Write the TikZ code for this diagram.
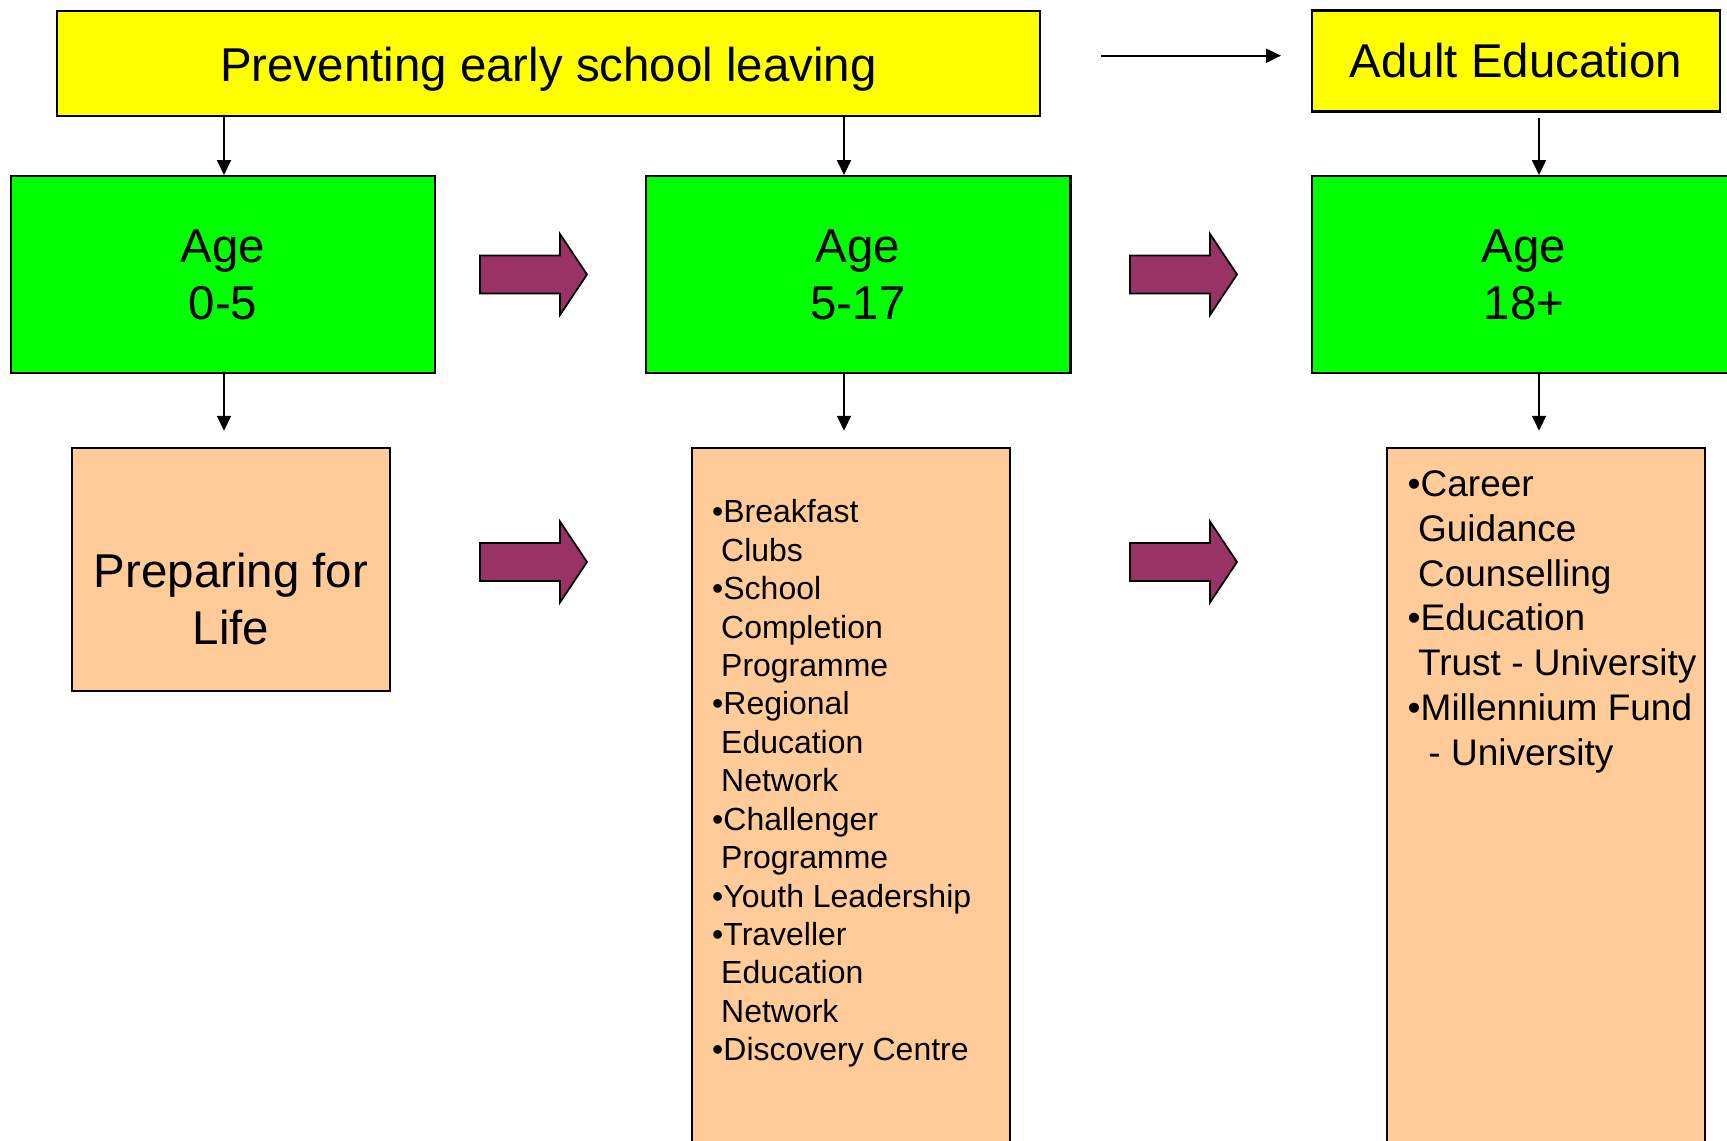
\documentclass[tikz,border=0pt]{standalone}
\usepackage{fontspec}
\setmainfont{Liberation Sans}
\usepackage{xcolor}
\usepackage{tikz}
\usetikzlibrary{arrows.meta}
\usetikzlibrary{positioning}
\definecolor{titleyellow}{rgb}{1,1,0}
\definecolor{agegreen}{rgb}{0,1,0}
\definecolor{listpeach}{rgb}{1,0.8,0.6}
\definecolor{arrowplum}{rgb}{0.6,0.2,0.4}
\newcommand{\ind}{\hspace*{0.28em}}

\begin{document}
\begin{tikzpicture}[
  box/.style={draw=black, line width=0.7pt, inner sep=0pt, align=center},
  bigtext/.style={font=\fontsize{13.5}{16.2}\selectfont, align=center},
  conn/.style={-{Triangle[length=0.15cm,width=0.14cm]}, line width=0.55pt},
  fatarrow/.pic={\draw[fill=arrowplum, line width=0.5pt] (0,0.19) -- (0.8,0.19) -- (0.8,0.405) -- (1.07,0) -- (0.8,-0.405) -- (0.8,-0.19) -- (0,-0.19) -- cycle;}
]
\useasboundingbox (0,0) rectangle (17.27,-11.41);
\clip (0,0) rectangle (17.27,-11.41);
\node[box, bigtext, fill=titleyellow, minimum width=9.83cm, minimum height=1.05cm, text height=0.46cm, text depth=0.1cm] (prevent) at (5.485,-0.635) {Preventing early school leaving};
\node[box, bigtext, fill=titleyellow, minimum width=4.08cm, minimum height=1.01cm] (adult) at (15.16,-0.61) {Adult Education};
\node[box, bigtext, fill=agegreen, minimum width=4.24cm, minimum height=1.965cm] (age0) at (2.23,-2.745) {Age\\0-5};
\node[box, bigtext, fill=agegreen, minimum width=4.245cm, minimum height=1.965cm] (age5) at (8.58,-2.745) {Age\\5-17};
\node[box, bigtext, fill=agegreen, minimum width=4.24cm, minimum height=1.965cm] (age18) at (15.24,-2.745) {Age\\18+};
\node[box, fill=listpeach, minimum width=3.18cm, minimum height=2.43cm] (prep) at (2.31,-5.695) {};
\node[bigtext] (preptext) at ([yshift=-0.3cm]prep.center) {Preparing for\\Life};
\node[box, fill=listpeach, minimum width=3.18cm, minimum height=7.1cm] (list5) at (8.51,-8.03) {};
\node[box, fill=listpeach, minimum width=3.18cm, minimum height=7.1cm] (list18) at (15.46,-8.03) {};
\node[anchor=north west, inner sep=0pt, align=left, font=\fontsize{9.1}{10.93}\selectfont] (list5text) at (7.115,-4.99)
  {•Breakfast\\\ind Clubs\\•School\\\ind Completion\\\ind Programme\\•Regional\\\ind Education\\\ind Network\\•Challenger\\\ind Programme\\•Youth Leadership\\•Traveller\\\ind Education\\\ind Network\\•Discovery Centre};
\node[anchor=north west, inner sep=0pt, align=left, font=\fontsize{10.53}{12.75}\selectfont] (list18text) at (14.07,-4.70)
  {•Career\\\ind Guidance\\\ind Counselling\\•Education\\\ind Trust - University\\•Millennium Fund\\\ind\ind - University};
\coordinate (c1) at (2.24,0);
\coordinate (c2) at (8.44,0);
\coordinate (c3) at (15.39,0);
\coordinate (ta) at (11.01,-0.557);
\coordinate (tb) at (12.81,-0.557);
\draw[conn] (ta) -- (tb);
\draw[conn] (prevent.south -| c1) -- (age0.north -| c1);
\draw[conn] (prevent.south -| c2) -- (age5.north -| c2);
\draw[conn, shorten <=0.05cm] (adult.south -| c3) -- (age18.north -| c3);
\draw[conn, shorten >=0.16cm] (age0.south -| c1) -- (prep.north -| c1);
\draw[conn, shorten >=0.16cm] (age5.south -| c2) -- (list5.north -| c2);
\draw[conn, shorten >=0.16cm] (age18.south -| c3) -- (list18.north -| c3);
\pic at (4.80,-2.745) {fatarrow};
\pic at (11.30,-2.745) {fatarrow};
\pic at (4.80,-5.62) {fatarrow};
\pic at (11.30,-5.62) {fatarrow};
\end{tikzpicture}
\end{document}
